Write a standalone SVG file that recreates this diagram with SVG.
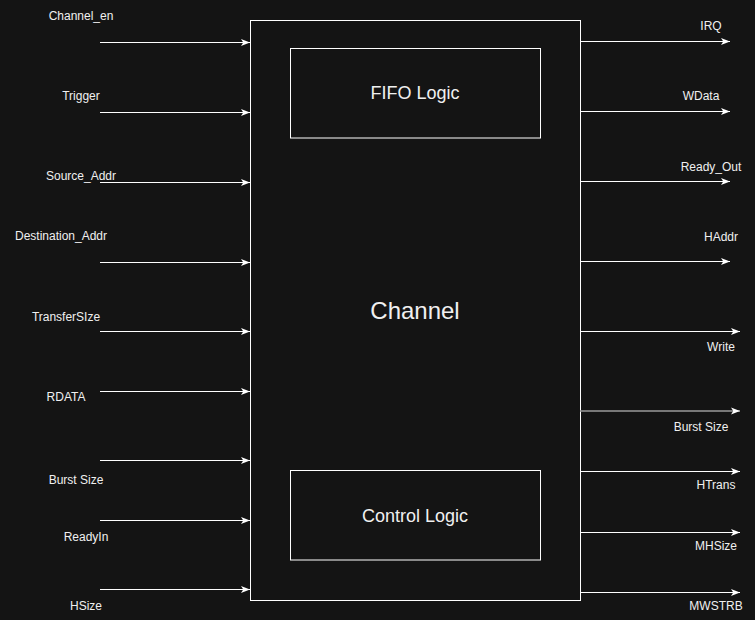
<svg xmlns="http://www.w3.org/2000/svg" width="755" height="620" viewBox="0 0 755 620">
<defs>
<style>
.bg{fill:#141414}
.box{fill:#141414;stroke:#ffffff;stroke-width:1}
.c{stroke:#ffffff;stroke-width:1;fill:none;marker-end:url(#ah)}
.cg{stroke:#9a9a9a;stroke-width:1.6;fill:none;marker-end:url(#ah)}
.lbl{font-family:"Liberation Sans",Arial,sans-serif;font-size:12px;fill:#f0f0f0;text-anchor:middle}
.big{font-family:"Liberation Sans",Arial,sans-serif;fill:#f0f0f0;text-anchor:middle;dominant-baseline:central}
</style>
<marker id="ah" viewBox="0 0 10 10" refX="10" refY="5" markerUnits="userSpaceOnUse" markerWidth="9" markerHeight="9" orient="auto">
<path d="M0,1 L10,5 L0,9 L2.5,5 Z" fill="#ffffff"/>
</marker>
</defs>
<rect class="bg" x="0" y="0" width="755" height="620"/>
<g id="channel">
<rect class="box" x="250.5" y="20.5" width="330" height="580"/>
<text class="big" x="415" y="310" font-size="24">Channel</text>
</g>
<g id="fifo">
<rect class="box" x="290.5" y="48.5" width="250" height="89.5"/>
<text class="big" x="415" y="93" font-size="18">FIFO Logic</text>
</g>
<g id="control">
<rect class="box" x="290.5" y="470.5" width="250" height="89.5"/>
<text class="big" x="415" y="515.5" font-size="18">Control Logic</text>
</g>
<g id="connectors">
<line class="c" x1="100" y1="42.5" x2="250" y2="42.5"/>
<line class="c" x1="100" y1="112.5" x2="250" y2="112.5"/>
<line class="c" x1="100" y1="182.5" x2="250" y2="182.5"/>
<line class="c" x1="100" y1="262.5" x2="250" y2="262.5"/>
<line class="c" x1="100" y1="331.5" x2="250" y2="331.5"/>
<line class="c" x1="100" y1="391.5" x2="250" y2="391.5"/>
<line class="c" x1="100" y1="460.5" x2="250" y2="460.5"/>
<line class="c" x1="100" y1="520.5" x2="250" y2="520.5"/>
<line class="c" x1="100" y1="589.5" x2="250" y2="589.5"/>
<line class="c" x1="580" y1="41.5" x2="730" y2="41.5"/>
<line class="c" x1="580" y1="111.5" x2="730" y2="111.5"/>
<line class="c" x1="580" y1="181.5" x2="730" y2="181.5"/>
<line class="c" x1="580" y1="261.5" x2="730" y2="261.5"/>
<line class="c" x1="580" y1="331.5" x2="740" y2="331.5"/>
<line class="cg" x1="580" y1="411" x2="740" y2="411"/>
<line class="c" x1="580" y1="471.5" x2="740" y2="471.5"/>
<line class="c" x1="580" y1="532.5" x2="740" y2="532.5"/>
<line class="c" x1="580" y1="592.5" x2="740" y2="592.5"/>
</g>
<g id="labels">
<text class="lbl" x="81" y="20">Channel_en</text>
<text class="lbl" x="81" y="99.5">Trigger</text>
<text class="lbl" x="81" y="179.5">Source_Addr</text>
<text class="lbl" x="61" y="240">Destination_Addr</text>
<text class="lbl" x="66" y="321">TransferSIze</text>
<text class="lbl" x="66" y="401">RDATA</text>
<text class="lbl" x="76" y="483.5">Burst Size</text>
<text class="lbl" x="86" y="540.5">ReadyIn</text>
<text class="lbl" x="86" y="609.5">HSize</text>
<text class="lbl" x="711" y="29.5">IRQ</text>
<text class="lbl" x="701" y="99.5">WData</text>
<text class="lbl" x="711" y="171">Ready_Out</text>
<text class="lbl" x="721" y="241">HAddr</text>
<text class="lbl" x="721" y="351">Write</text>
<text class="lbl" x="701" y="431">Burst Size</text>
<text class="lbl" x="716" y="488.5">HTrans</text>
<text class="lbl" x="716" y="549.5">MHSize</text>
<text class="lbl" x="716" y="609.5">MWSTRB</text>
</g>
</svg>
